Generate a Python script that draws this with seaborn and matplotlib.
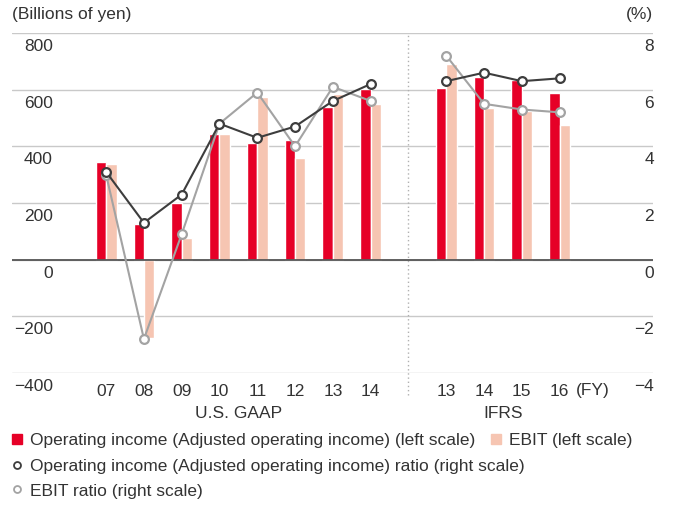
import numpy as np
import pandas as pd
import matplotlib.pyplot as plt
import seaborn as sns
from matplotlib.lines import Line2D
from matplotlib.transforms import ScaledTranslation

# data
years_us = ["07", "08", "09", "10", "11", "12", "13", "14"]
years_ifrs = ["13", "14", "15", "16"]
op_income_us = [346, 127, 201, 444, 413, 423, 540, 601]
ebit_us = [336, -277, 78, 444, 575, 360, 584, 550]
op_income_ifrs = [607, 643, 634, 589]
ebit_ifrs = [691, 537, 523, 476]
op_ratio_us = [3.1, 1.3, 2.3, 4.8, 4.3, 4.7, 5.6, 6.2]
ebit_ratio_us = [3.0, -2.8, 0.9, 4.8, 5.9, 4.0, 6.1, 5.6]
op_ratio_ifrs = [6.3, 6.6, 6.3, 6.4]
ebit_ratio_ifrs = [7.2, 5.5, 5.3, 5.2]
left_ticks = [-400, -200, 0, 200, 400, 600, 800]
right_ticks = [-4, -2, 0, 2, 4, 6, 8]

RED = "#e60027"
PINK = "#f6c5b2"
DARK = "#3d3d3d"
GRAY = "#a3a3a3"
TXT = "#333333"

sns.set_style("white")
plt.rcParams["font.family"] = ["Liberation Sans", "DejaVu Sans"]
plt.rcParams["text.color"] = TXT
FS = 12.5

# US GAAP at 0..7, gap, IFRS at 9..12
pos_us = np.arange(len(years_us))
pos_ifrs = np.arange(len(years_ifrs)) + len(years_us) + 1
positions = np.concatenate([pos_us, pos_ifrs])

bars = pd.DataFrame({
    "pos": np.concatenate([positions, positions]),
    "value": op_income_us + op_income_ifrs + ebit_us + ebit_ifrs,
    "series": ["op"] * len(positions) + ["ebit"] * len(positions),
})

fig = plt.figure(figsize=(6.73, 5.05), dpi=100)
ax = fig.add_axes([12 / 673, 1 - 373 / 505, 641 / 673, 340 / 505])

sns.barplot(data=bars, x="pos", y="value", hue="series", native_scale=True,
            palette=[RED, PINK], width=0.55, errorbar=None, saturation=1,
            legend=False, ax=ax, zorder=2)

ax.set_ylim(-400, 800)
ax.set_xlim(-2.49, 14.47)
for v in left_ticks:
    ax.axhline(v, color="#c9c9c9", lw=1, zorder=0)
ax.axhline(0, color="#555555", lw=1.3, zorder=3)
ax.axvline(len(years_us), ymin=-0.065, ymax=1, color="#b0b0b0", lw=1,
           ls=(0, (1, 2)), clip_on=False, zorder=1)

ax.set_yticks(left_ticks)
ax.set_yticklabels([])
for v in left_ticks:
    ax.annotate(f"{v:,}".replace("-", "\u2212"), xy=(0, v),
                xycoords=("axes fraction", "data"), xytext=(41 * 0.72, -13.5 * 0.72),
                textcoords="offset points", ha="right", va="center", fontsize=FS, color=TXT)

ax.set_xticks(positions)
ax.set_xticklabels(years_us + years_ifrs, fontsize=FS, color=TXT)
ax.tick_params(axis="both", length=0)
ax.tick_params(axis="x", pad=8)
ax.set_xlabel("")
ax.set_ylabel("")
ax.text(positions[-1] + 0.88, -400, "(FY)", fontsize=FS, color=TXT, ha="center", va="center",
        transform=ax.transData + ScaledTranslation(0, -0.18, fig.dpi_scale_trans))
ax.text(pos_us.mean(), -400, "U.S. GAAP", fontsize=FS, ha="center", va="center",
        transform=ax.transData + ScaledTranslation(0, -0.40, fig.dpi_scale_trans))
ax.text(pos_ifrs.mean(), -400, "IFRS", fontsize=FS, ha="center", va="center",
        transform=ax.transData + ScaledTranslation(0, -0.40, fig.dpi_scale_trans))

ax2 = ax.twinx()
ax2.set_ylim(-4, 8)
mk = dict(marker="o", markersize=6.3, markerfacecolor="white", markeredgewidth=1.6)
for xs, ys in [(pos_us, ebit_ratio_us), (pos_ifrs, ebit_ratio_ifrs)]:
    sns.lineplot(x=xs, y=ys, ax=ax2, color=GRAY, lw=1.5, markeredgecolor=GRAY, zorder=4, **mk)
for xs, ys in [(pos_us, op_ratio_us), (pos_ifrs, op_ratio_ifrs)]:
    sns.lineplot(x=xs, y=ys, ax=ax2, color=DARK, lw=1.5, markeredgecolor=DARK, zorder=5, **mk)
ax2.set_yticks(right_ticks)
ax2.set_yticklabels([])
ax2.tick_params(length=0)
for v in right_ticks:
    ax2.annotate(str(v).replace("-", "\u2212"), xy=(1, v),
                 xycoords=("axes fraction", "data"), xytext=(1 * 0.72, -13.5 * 0.72),
                 textcoords="offset points", ha="right", va="center", fontsize=FS, color=TXT)

for a in (ax, ax2):
    for s in a.spines.values():
        s.set_visible(False)
    a.set_ylabel("")

fig.text(12 / 673, 1 - 15 / 505, "(Billions of yen)", fontsize=FS, va="center", ha="left")
fig.text(653 / 673, 1 - 15 / 505, "(%)", fontsize=FS, va="center", ha="right")

# legend rows
leg_kw = dict(frameon=False, fontsize=FS, loc="center left", borderpad=0, borderaxespad=0,
              handlelength=0.6, handletextpad=0.45, columnspacing=0.9, labelcolor=TXT)
h_op = Line2D([], [], marker="s", ls="none", color=RED, markersize=7.5)
h_ebit = Line2D([], [], marker="s", ls="none", color=PINK, markersize=7.5)
h_opr = Line2D([], [], marker="o", ls="none", markerfacecolor="white", markeredgecolor=DARK,
               markeredgewidth=1.3, markersize=5)
h_ebr = Line2D([], [], marker="o", ls="none", markerfacecolor="white", markeredgecolor=GRAY,
               markeredgewidth=1.3, markersize=5)
fig.legend([h_op, h_ebit], ["Operating income (Adjusted operating income) (left scale)", "EBIT (left scale)"],
           ncol=2, bbox_to_anchor=(12 / 673, 1 - 440 / 505), **leg_kw)
fig.legend([h_opr], ["Operating income (Adjusted operating income) ratio (right scale)"],
           bbox_to_anchor=(12 / 673, 1 - 466 / 505), **leg_kw)
fig.legend([h_ebr], ["EBIT ratio (right scale)"],
           bbox_to_anchor=(12 / 673, 1 - 491 / 505), **leg_kw)

fig.savefig("out.png", dpi=100)
